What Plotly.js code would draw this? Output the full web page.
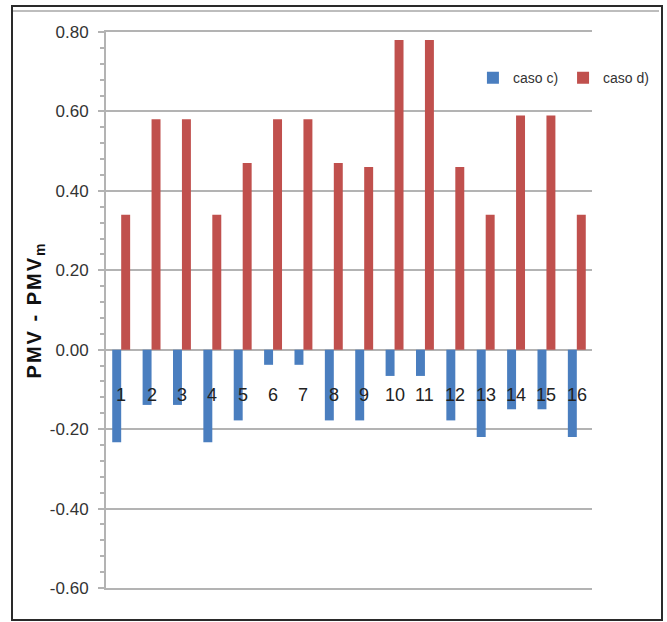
<!DOCTYPE html>
<html>
<head>
<meta charset="utf-8">
<script src="https://cdn.plot.ly/plotly-3.0.1.min.js"></script>
<style>
  html, body { margin: 0; padding: 0; background: #fff; }
  #wrap { position: relative; width: 667px; height: 622px; }
  #chart { width: 667px; height: 622px; }
  #frame { position: absolute; left: 11px; top: 5px; width: 648px; height: 612px;
           border: 2px solid #2a2a2a; pointer-events: none; }
  #frame2 { position: absolute; left: 13px; top: 10px; width: 646px; height: 0;
           border-top: 2px solid #bdbdbd; pointer-events: none; }
  .ytitle { letter-spacing: 2px; }
</style>
</head>
<body>
<div id="wrap">
  <div id="chart"></div>
  <div id="frame"></div>
  <div id="frame2"></div>
</div>
<script>
const categories = ["1","2","3","4","5","6","7","8","9","10","11","12","13","14","15","16"];
const casoC = [-0.233, -0.139, -0.139, -0.233, -0.178, -0.038, -0.038, -0.178, -0.178, -0.066, -0.066, -0.178, -0.220, -0.150, -0.150, -0.220];
const casoD = [0.34, 0.58, 0.58, 0.34, 0.47, 0.58, 0.58, 0.47, 0.46, 0.78, 0.78, 0.46, 0.34, 0.59, 0.59, 0.34];
const seriesNames = ["caso c)", "caso d)"];
const yTickVals = [-0.6, -0.4, -0.2, 0, 0.2, 0.4, 0.6, 0.8];
const yTickText = ["-0.60", "-0.40", "-0.20", "0.00", "0.20", "0.40", "0.60", "0.80"];
const labelLevel = -0.113;

const sans = '"Liberation Sans", Arial, sans-serif';

const traces = [
  { type: 'bar', name: seriesNames[0], x: categories, y: casoC,
    marker: { color: '#4A7EBF' } },
  { type: 'bar', name: seriesNames[1], x: categories, y: casoD,
    marker: { color: '#C0504D' } }
];

const annotations = categories.map((c, i) => ({
  x: i, y: labelLevel, xref: 'x', yref: 'y', text: c, showarrow: false,
  font: { family: sans, size: 18, color: '#222' }
}));

const layout = {
  width: 667, height: 622,
  margin: { l: 106, r: 19, t: 32, b: 34 },
  paper_bgcolor: '#fff', plot_bgcolor: '#fff',
  barmode: 'group', bargap: 0.41, bargroupgap: 0,
  showlegend: true,
  legend: { orientation: 'h', x: 0.755, y: 0.917, xanchor: 'left', yanchor: 'middle',
            font: { family: sans, size: 14, color: '#333' },
            itemwidth: 30, bgcolor: 'rgba(0,0,0,0)', traceorder: 'normal' },
  xaxis: { type: 'category', showticklabels: false, ticks: '', showgrid: false,
           showline: true, mirror: true, linecolor: '#b3b3b3', linewidth: 2,
           zeroline: false, fixedrange: true },
  yaxis: { range: [-0.6, 0.8], tickvals: yTickVals, ticktext: yTickText,
           tickfont: { family: sans, size: 17, color: '#333' },
           ticklabelstandoff: 6,
           showgrid: true, gridcolor: '#b3b3b3', gridwidth: 2,
           zeroline: true, zerolinecolor: '#b3b3b3', zerolinewidth: 2,
           showline: true, linecolor: '#b3b3b3', linewidth: 2,
           ticks: 'outside', ticklen: 6, tickcolor: '#b3b3b3', tickwidth: 2,
           minor: { dtick: 0.04, ticks: 'outside', ticklen: 4, tickcolor: '#b3b3b3', showgrid: false },
           title: { text: '<b>PMV - PMV<sub>m</sub></b>', standoff: 3,
                    font: { family: sans, size: 20, color: '#111' } },
           fixedrange: true },
  annotations: annotations
};

Plotly.newPlot('chart', traces, layout, { displayModeBar: false, staticPlot: true });
</script>
</body>
</html>
